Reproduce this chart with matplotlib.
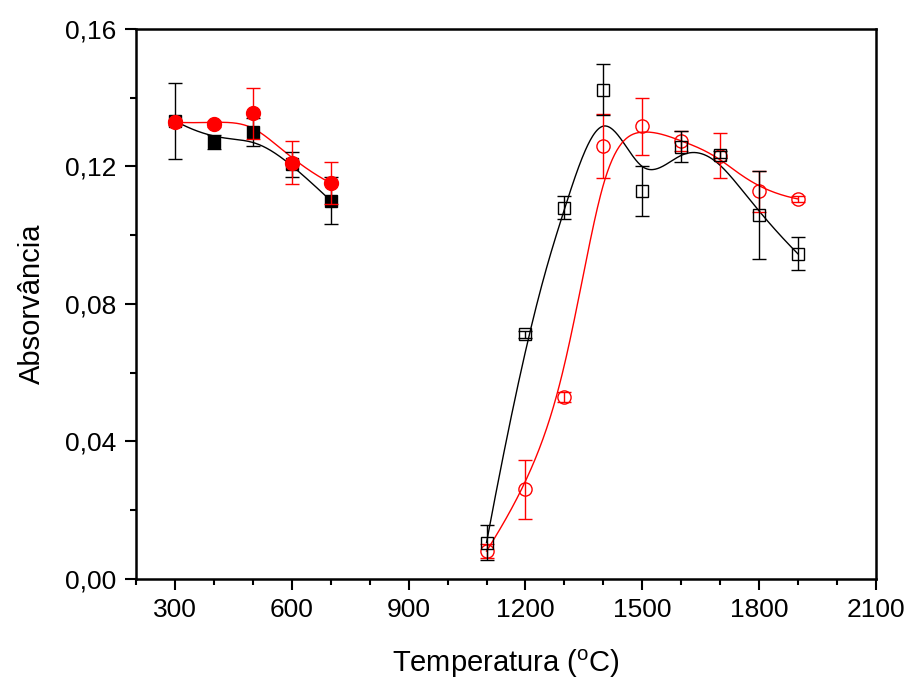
import numpy as np
import matplotlib.pyplot as plt
from matplotlib.ticker import MultipleLocator, FuncFormatter

plt.rcParams['font.family'] = ['Liberation Sans', 'DejaVu Sans']

# left group (filled symbols)
temp_a   = [300, 400, 500, 600, 700]
black_a  = [0.1332, 0.1271, 0.1300, 0.1206, 0.1100]
black_ae = [0.0110, 0.0020, 0.0040, 0.0036, 0.0068]
red_a    = [0.1328, 0.1323, 0.1354, 0.1211, 0.1151]
red_ae   = [0.0008, 0.0010, 0.0074, 0.0063, 0.0062]

# right group (open symbols)
temp_b   = [1100, 1200, 1300, 1400, 1500, 1600, 1700, 1800, 1900]
black_b  = [0.0106, 0.0712, 0.1080, 0.1423, 0.1129, 0.1257, 0.1233, 0.1059, 0.0945]
black_be = [0.0052, 0.0010, 0.0033, 0.0073, 0.0073, 0.0045, 0.0010, 0.0128, 0.0048]
red_b    = [0.0081, 0.0261, 0.0530, 0.1258, 0.1316, 0.1274, 0.1231, 0.1127, 0.1105]
red_be   = [0.0020, 0.0086, 0.0015, 0.0093, 0.0084, 0.0030, 0.0065, 0.0060, 0.0010]


def bspline(x, y, npts=300):
    # clamped uniform cubic B-spline using the data as control points
    P = np.column_stack([x, y]).astype(float)
    n = len(P)
    k = 3
    knots = np.concatenate([[0]*k, np.arange(n - k + 1), [n - k]*k]).astype(float)
    t = np.linspace(0, n - k, npts)
    t[-1] -= 1e-9

    def basis(i, d, t):
        if d == 0:
            return ((knots[i] <= t) & (t < knots[i+1])).astype(float)
        a = 0.0
        b = 0.0
        if knots[i+d] != knots[i]:
            a = (t - knots[i]) / (knots[i+d] - knots[i]) * basis(i, d-1, t)
        if knots[i+d+1] != knots[i+1]:
            b = (knots[i+d+1] - t) / (knots[i+d+1] - knots[i+1]) * basis(i+1, d-1, t)
        return a + b

    curve = np.zeros((npts, 2))
    for i in range(n):
        curve += basis(i, k, t)[:, None] * P[i]
    return curve[:, 0], curve[:, 1]


fig = plt.figure(figsize=(9.1, 6.79), dpi=100)
ax = fig.add_axes([0.1495, 0.1473, 0.8131, 0.8104])

for xs, ys in [(temp_a, black_a), (temp_b, black_b)]:
    cx, cy = bspline(xs, ys)
    ax.plot(cx, cy, color='black', lw=1.0, zorder=2)
for xs, ys in [(temp_a, red_a), (temp_b, red_b)]:
    cx, cy = bspline(xs, ys)
    ax.plot(cx, cy, color='red', lw=1.0, zorder=2)

ekw = dict(elinewidth=1.0, capsize=5, capthick=1.0, ls='none')
ax.errorbar(temp_a, black_a, yerr=black_ae, color='black', marker='s', ms=8.5,
            mfc='black', mec='black', zorder=3, **ekw)
ax.errorbar(temp_a, red_a, yerr=red_ae, color='red', marker='o', ms=10,
            mfc='red', mec='red', zorder=4, **ekw)
ax.errorbar(temp_b, red_b, yerr=red_be, color='red', marker='o', ms=9.5,
            mfc='none', mec='red', mew=1.0, zorder=3, **ekw)
ax.errorbar(temp_b, black_b, yerr=black_be, color='black', marker='s', ms=8,
            mfc='none', mec='black', mew=1.0, zorder=4, **ekw)

ax.set_xlim(200, 2100)
ax.set_ylim(0, 0.16)
ax.xaxis.set_major_locator(MultipleLocator(300))
ax.xaxis.set_minor_locator(MultipleLocator(100))
ax.yaxis.set_major_locator(MultipleLocator(0.04))
ax.yaxis.set_minor_locator(MultipleLocator(0.02))
ax.set_xticks([300, 600, 900, 1200, 1500, 1800, 2100])
ax.yaxis.set_major_formatter(FuncFormatter(lambda v, p: ('%.2f' % v).replace('.', ',')))

for s in ax.spines.values():
    s.set_linewidth(1.8)
ax.tick_params(which='major', direction='out', length=8, width=1.5, labelsize=19, pad=6)
ax.tick_params(which='minor', direction='out', length=4.5, width=1.5)
ax.tick_params(top=False, right=False)

ax.set_xlabel('Temperatura ($^\\mathregular{o}$C)', fontsize=21, labelpad=18)
ax.set_ylabel('Absorvância', fontsize=21, labelpad=14)

fig.savefig('out.png', dpi=100)
